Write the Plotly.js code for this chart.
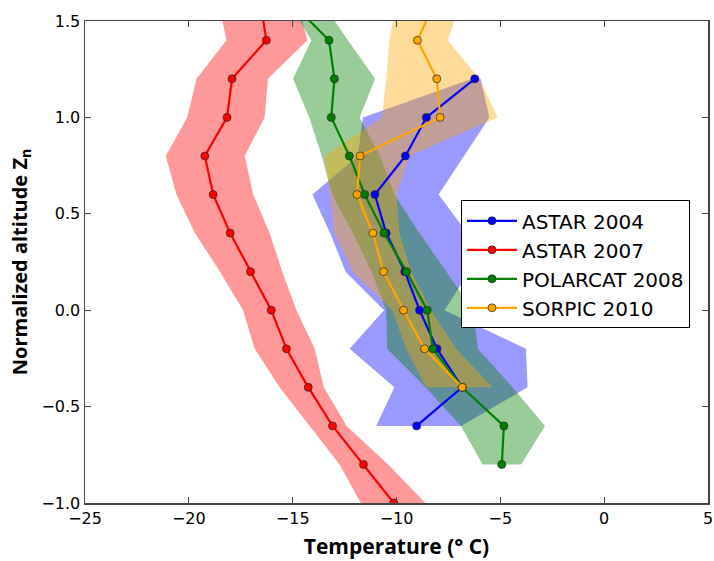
<!DOCTYPE html>
<html>
<head>
<meta charset="utf-8">
<script src="https://cdn.plot.ly/plotly-3.0.1.min.js"></script>
<style>html,body{margin:0;padding:0;background:#fff;}#chart{width:714px;height:561px;}</style>
</head>
<body>
<div id="chart"></div>
<script>
// Altitude levels (normalized altitude Zn)
const levelsRed = [1.6, 1.4, 1.2, 1.0, 0.8, 0.6, 0.4, 0.2, 0.0, -0.2, -0.4, -0.6, -0.8, -1.0];
const levelsBlue = [1.2, 1.0, 0.8, 0.6, 0.4, 0.2, 0.0, -0.2, -0.4, -0.6];
const levelsGreen = [1.6, 1.4, 1.2, 1.0, 0.8, 0.6, 0.4, 0.2, 0.0, -0.2, -0.4, -0.6, -0.8];
const levelsOrange = [1.6, 1.4, 1.2, 1.0, 0.8, 0.6, 0.4, 0.2, 0.0, -0.2, -0.4];

// ASTAR 2004
const blueMean = [-6.23, -8.56, -9.57, -11.04, -10.50, -9.60, -8.89, -8.05, -6.84, -9.03];
const blueLo   = [-6.35, -11.62, -11.86, -14.05, -13.2, -12.45, -10.6, -12.26, -10.1, -10.98];
const blueHi   = [-5.95, -5.53, -6.75, -7.97, -6.6, -6.5, -7.69, -3.77, -3.69, -6.89];

// ASTAR 2007
const redMean = [-16.55, -16.27, -17.92, -18.16, -19.23, -18.83, -18.01, -17.03, -16.03, -15.30, -14.25, -13.08, -11.59, -10.13];
const redLo   = [-18.57, -18.19, -19.63, -20.08, -21.11, -20.6, -19.71, -18.5, -17.39, -16.83, -15.63, -14.18, -12.74, -11.72];
const redHi   = [-14.79, -14.29, -16.19, -16.35, -17.31, -16.9, -16.11, -15.5, -14.82, -13.94, -13.5, -12.4, -10.4, -8.61];

// POLARCAT 2008
const greenMean = [-15.1, -13.25, -12.99, -13.14, -12.27, -11.53, -10.60, -9.52, -8.52, -8.25, -6.84, -4.83, -4.93];
const greenLo   = [-15.2, -14.1, -14.98, -14.2, -13.6, -13.1, -12.1, -11.2, -10.5, -10.45, -8.6, -6.9, -5.85];
const greenHi   = [-13.6, -12.34, -11.03, -11.78, -10.8, -10.1, -8.9, -7.6, -6.3, -6.09, -4.41, -2.85, -4.0];

// SORPIC 2010
const orangeMean = [-8.15, -8.99, -8.06, -7.90, -11.75, -11.90, -11.14, -10.62, -9.66, -8.65, -6.84];
const orangeLo   = [-10.0, -10.34, -10.5, -10.7, -13.46, -13.2, -12.98, -12.1, -10.2, -9.54, -8.57];
const orangeHi   = [-6.9, -7.53, -6.01, -5.13, -9.4, -10.0, -9.86, -9.3, -8.33, -7.13, -5.37];

const seriesNames = ['ASTAR 2004', 'ASTAR 2007', 'POLARCAT 2008', 'SORPIC 2010'];
const xTicks = [-25, -20, -15, -10, -5, 0, 5];
const yTicks = [1.5, 1.0, 0.5, 0.0, -0.5, -1.0];

const series = [
  {name: seriesNames[0], y: levelsBlue, m: blueMean, lo: blueLo, hi: blueHi, color: '#0000ff', fill: 'rgba(0,0,255,0.4)'},
  {name: seriesNames[1], y: levelsRed, m: redMean, lo: redLo, hi: redHi, color: '#ff0000', fill: 'rgba(255,0,0,0.4)'},
  {name: seriesNames[2], y: levelsGreen, m: greenMean, lo: greenLo, hi: greenHi, color: '#008000', fill: 'rgba(0,128,0,0.4)'},
  {name: seriesNames[3], y: levelsOrange, m: orangeMean, lo: orangeLo, hi: orangeHi, color: '#ffa500', fill: 'rgba(255,165,0,0.4)'}
];

const traces = [];
series.forEach(s => {
  traces.push({
    type: 'scatter', mode: 'lines',
    x: s.lo.concat(s.hi.slice().reverse()),
    y: s.y.concat(s.y.slice().reverse()),
    fill: 'toself', fillcolor: s.fill,
    line: {width: 0, color: 'rgba(0,0,0,0)'},
    showlegend: false, hoverinfo: 'skip'
  });
});
series.forEach(s => {
  traces.push({
    type: 'scatter', mode: 'lines+markers', name: s.name,
    x: s.m, y: s.y,
    line: {color: s.color, width: 2.2},
    marker: {color: s.color, size: 8, line: {color: '#222', width: 0.7}}
  });
});

const axisCommon = {
  showline: true, linecolor: '#444', linewidth: 1.5, mirror: 'ticks',
  ticks: 'inside', ticklen: 6, tickwidth: 1, tickcolor: '#444',
  showgrid: false, zeroline: false,
  tickfont: {family: 'DejaVu Sans', size: 16, color: '#000'}
};

const layout = {
  width: 714, height: 561,
  margin: {l: 85, r: 6, t: 21, b: 58},
  paper_bgcolor: '#fff', plot_bgcolor: '#fff',
  showlegend: true,
  xaxis: Object.assign({}, axisCommon, {
    range: [-25, 5], tickvals: xTicks, ticktext: xTicks.map(v => v < 0 ? '\u2212' + Math.abs(v) : String(v)),
    title: {text: 'Temperature (° C)', font: {family: 'Open Sans', size: 21, weight: 700, color: '#000'}, standoff: 12}
  }),
  yaxis: Object.assign({}, axisCommon, {
    range: [-1.0, 1.5], tickvals: yTicks, ticktext: yTicks.map(v => (v < 0 ? '\u2212' : '') + Math.abs(v).toFixed(1)),
    title: {text: 'Normalized altitude Z<sub>n</sub>', font: {family: 'Open Sans', size: 20, weight: 700, color: '#000'}, standoff: 8}
  }),
  legend: {
    x: 0.6035, y: 0.628, xanchor: 'left', yanchor: 'top',
    bgcolor: '#fff', bordercolor: '#000', borderwidth: 1,
    font: {family: 'DejaVu Sans', size: 20, color: '#000'},
    itemwidth: 50
  }
};

Plotly.newPlot('chart', traces, layout, {displayModeBar: false, staticPlot: true});
</script>
</body>
</html>
